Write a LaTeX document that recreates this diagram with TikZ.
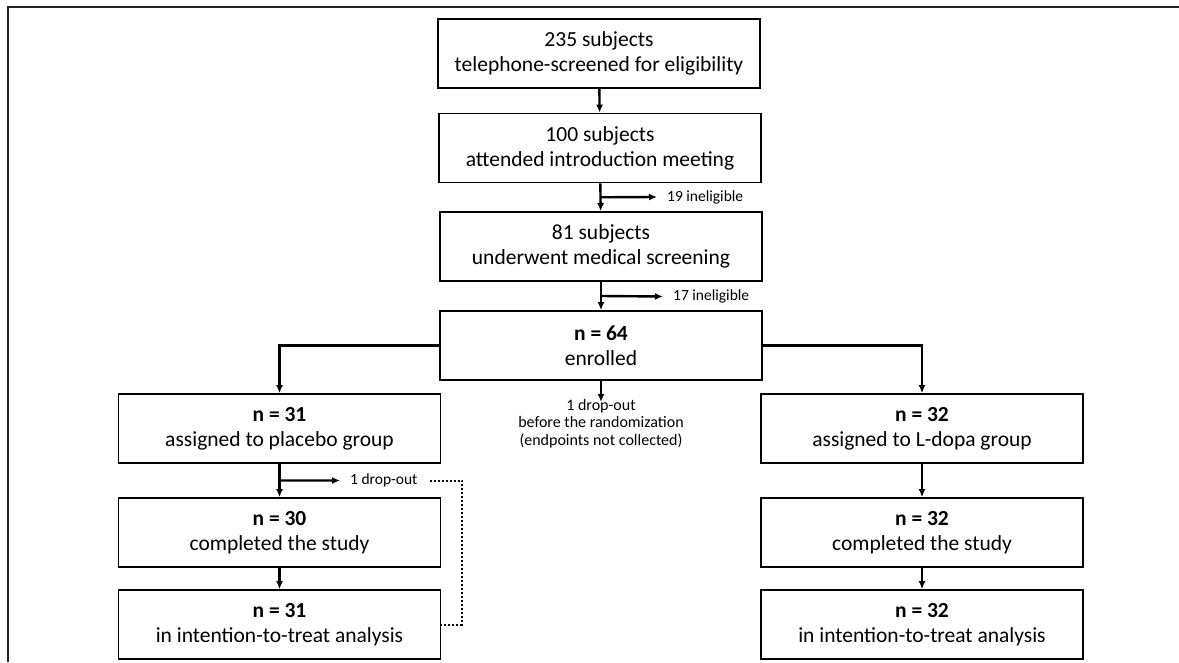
\documentclass[tikz,border=0pt]{standalone}
\usepackage{fontspec}
\setmainfont{Carlito}
\usetikzlibrary{arrows.meta,calc}

\tikzset{
  box/.style={draw, line width=1.7pt, minimum width=322pt, minimum height=69pt,
              inner sep=0pt, align=center, font=\fontsize{21.5}{25}\selectfont},
  arr/.style={-{Latex[length=8pt,width=7pt]}, line width=2.4pt},
  note/.style={anchor=west, inner xsep=10pt, inner ysep=1pt, font=\fontsize{15.5}{17}\selectfont},
}

\begin{document}
\begin{tikzpicture}[x=1pt, y=-1pt]
 \useasboundingbox (0,0) rectangle (1179,662);

 %% frame
 \draw [line width=2.6pt, black!85] (8,662) -- (8,7) -- (1179,7);

 %% screening
 \node [box] (tel) at (599,53.5) {235 subjects\\telephone-screened for eligibility};
 \node [box] (intro) at (600,148) {100 subjects\\attended introduction meeting};
 \node [box] (med) at (601,246.5) {81 subjects\\underwent medical screening};
 \node [box] (enr) at (601,345.5) {\textbf{n = 64}\\enrolled};

 \node [note] (inel19) at (657,197) {19 ineligible};
 \node [note] (inel17) at (663,296.5) {17 ineligible};
 \node [align=center, inner sep=0pt, anchor=north, font=\fontsize{16}{17.5}\selectfont]
   (rand) at (601,399) {1 drop-out\\before the randomization\\(endpoints not collected)};

 %% groups
 \node [box] (pl1) at (279.5,428.5) {\textbf{n = 31}\\assigned to placebo group};
 \node [box] (pl2) at (279.5,532.5) {\textbf{n = 30}\\completed the study};
 \node [box] (pl3) at (279.5,624.5) {\textbf{n = 31}\\in intention-to-treat analysis};
 \node [box] (ld1) at (922,428.5) {\textbf{n = 32}\\assigned to L-dopa group};
 \node [box] (ld2) at (922,532.5) {\textbf{n = 32}\\completed the study};
 \node [box] (ld3) at (922,624.5) {\textbf{n = 32}\\in intention-to-treat analysis};

 \node [note] (drop) at (340,480.5) {1 drop-out};

 %% arrows
 \draw [arr] (tel) -- (intro);
 \draw [arr] (intro) -- (med);
 \draw [arr] (med) -- (enr);
 \draw [arr] ($(intro.south)!0.5!(med.north)$) -- (inel19.west);
 \draw [arr] ($(med.south)!0.5!(enr.north)$) -- (inel17.west);
 \draw [arr] (enr.south) -- ([yshift=-3pt]rand.north);

 \draw [arr] (enr.west) -| (pl1.north);
 \draw [arr] (enr.east) -| (ld1.north);

 \draw [arr] (pl1) -- (pl2);
 \draw [arr] (pl2) -- (pl3);
 \draw [arr] ($(pl1.south)!0.5!(pl2.north)$) -- (drop.west);
 \draw [arr] (ld1) -- (ld2);
 \draw [arr] (ld2) -- (ld3);

 \coordinate (dt) at (462,624.5);
 \draw [dotted, line width=2pt] ([xshift=2pt]drop.east) -| (dt) -- (pl3.east);
\end{tikzpicture}
\end{document}
